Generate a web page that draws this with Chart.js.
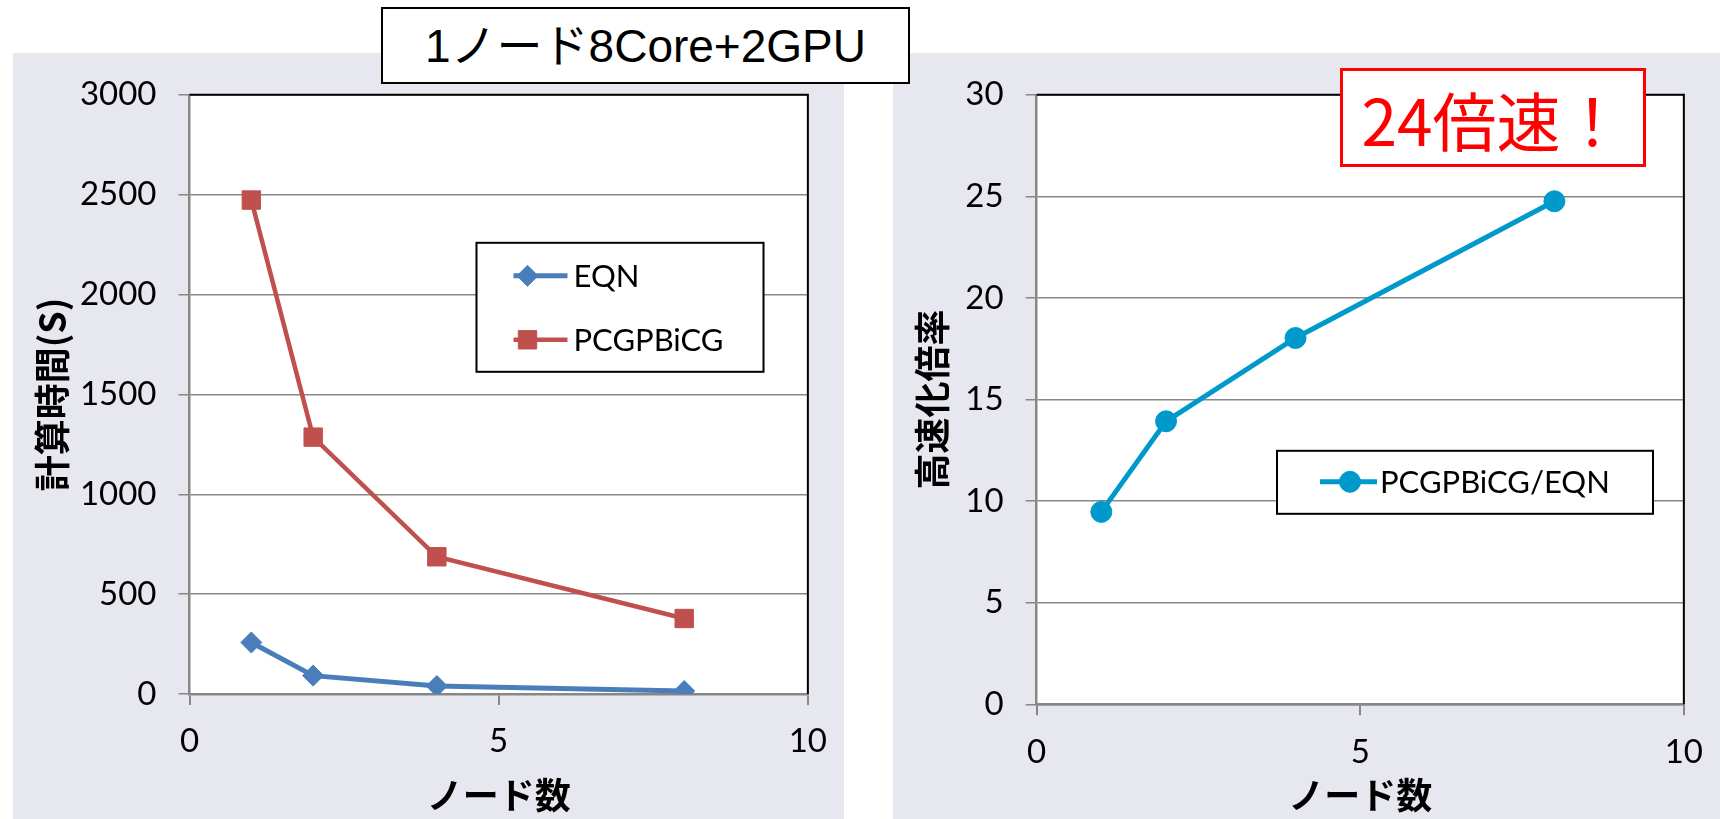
<!DOCTYPE html>
<html>
<head>
<meta charset="utf-8">
<script src="https://cdn.jsdelivr.net/npm/chart.js@4.4.1/dist/chart.umd.min.js"></script>
<style>
  html, body { margin: 0; padding: 0; background: #fff; width: 1720px; height: 819px; overflow: hidden; }
  body { position: relative; }
  .panel { position: absolute; background: #e7e8ef; }
  #panelTime { left: 13px; top: 53px; width: 831px; height: 766px; }
  #panelSpeed { left: 893px; top: 53px; width: 827px; height: 766px; }
  canvas { display: block; }
  #heading {
    position: absolute; left: 381px; top: 7px; width: 525px; height: 73px;
    border: 2px solid #000; background: #fff; color: #000;
    font: 46px 'Liberation Sans', 'Noto Sans CJK JP', sans-serif; line-height: 1;
    display: flex; align-items: center; justify-content: center;
  }
  #badge {
    position: absolute; left: 1340px; top: 68px; width: 300px; height: 93px;
    border: 3px solid #ff0000; background: #fff; color: #ff0000;
    font: 64px 'Noto Sans CJK JP', sans-serif; line-height: 1;
    display: flex; align-items: center; justify-content: center;
  }
</style>
</head>
<body>
<div class="panel" id="panelTime"><canvas id="timeChart" width="831" height="766"></canvas></div>
<div class="panel" id="panelSpeed"><canvas id="speedChart" width="827" height="766"></canvas></div>
<div id="heading">1ノード8Core+2GPU</div>
<div id="badge">24倍速！</div>

<script>
// Node counts and measured values
const nodes = [1, 2, 4, 8];
const eqnTime = [258, 92, 40, 15];          // EQN solver time (s)
const pcgTime = [2473, 1286, 687, 378];     // PCGPBiCG solver time (s)
const speedup = [9.47, 13.93, 18.03, 24.76]; // PCGPBiCG / EQN

// Axis settings
const xTicks = { min: 0, max: 10, step: 5 };
const timeTicks = { min: 0, max: 3000, step: 500 };
const speedTicks = { min: 0, max: 30, step: 5 };

const seriesLabels = ['EQN', 'PCGPBiCG', 'PCGPBiCG/EQN'];
const axisTitles = { x: 'ノード数', time: '計算時間(S)', speed: '高速化倍率' };

const COLORS = { eqn: '#4a7ebb', pcg: '#c0504d', ratio: '#0099cc', grid: '#878787' };
const TICK_FONT = { family: 'Lato, "Noto Sans", sans-serif', size: 33 };
const TITLE_FONT = { family: '"Noto Sans CJK JP", sans-serif', size: 36, weight: 'bold' };
const LEGEND_FONT = '31px Lato, "Noto Sans", sans-serif';

const toPoints = (xs, ys) => xs.map((x, i) => ({ x, y: ys[i] }));
const plainNumber = v => String(v);

// White plot area, black frame on top/right, and an in-plot legend box
const framePlugin = {
  id: 'frame',
  beforeDraw(chart) {
    const { ctx, chartArea: a } = chart;
    ctx.save();
    ctx.fillStyle = '#fff';
    ctx.fillRect(a.left, a.top, a.right - a.left, a.bottom - a.top);
    ctx.restore();
  },
  beforeDatasetsDraw(chart) {
    const { ctx, chartArea: a } = chart;
    ctx.save();
    ctx.strokeStyle = '#000';
    ctx.lineWidth = 2;
    ctx.beginPath();
    ctx.moveTo(a.left, a.top);
    ctx.lineTo(a.right, a.top);
    ctx.lineTo(a.right, a.bottom);
    ctx.stroke();
    ctx.restore();
  },
  afterDatasetsDraw(chart, args, opts) {
    if (!opts.box) return;
    const { ctx, chartArea: a } = chart;
    const b = opts.box;
    const bx = a.left + b.left, by = a.top + b.top;
    ctx.save();
    ctx.fillStyle = '#fff';
    ctx.fillRect(bx, by, b.width, b.height);
    ctx.strokeStyle = '#000';
    ctx.lineWidth = 2;
    ctx.strokeRect(bx, by, b.width, b.height);
    chart.data.datasets.forEach((ds, i) => {
      const cy = by + b.rows[i];
      ctx.strokeStyle = ds.borderColor;
      ctx.lineWidth = ds.borderWidth;
      ctx.beginPath();
      ctx.moveTo(bx + b.lineFrom, cy);
      ctx.lineTo(bx + b.lineTo, cy);
      ctx.stroke();
      ctx.fillStyle = ds.pointBackgroundColor;
      ctx.strokeStyle = ds.pointBorderColor;
      ctx.lineWidth = 1;
      Chart.helpers.drawPoint(ctx, {
        pointStyle: ds.pointStyle, radius: ds.pointRadius, rotation: 0, borderWidth: 1
      }, bx + b.marker, cy);
      ctx.fillStyle = '#000';
      ctx.font = LEGEND_FONT;
      ctx.textBaseline = 'middle';
      ctx.textAlign = 'left';
      ctx.fillText(ds.label, bx + b.text, cy + 1);
    });
    ctx.restore();
  }
};

function xScale(height) {
  return {
    type: 'linear', min: xTicks.min, max: xTicks.max,
    ticks: { stepSize: xTicks.step, color: '#000', font: TICK_FONT, padding: 17, maxRotation: 0, callback: plainNumber },
    grid: { drawOnChartArea: false, drawTicks: true, tickLength: 11, color: COLORS.grid, lineWidth: 2 },
    border: { display: true, color: COLORS.grid, width: 2.5 },
    title: { display: true, text: axisTitles.x, color: '#000', font: TITLE_FONT, padding: { top: 0, bottom: 2 } },
    afterFit(s) { s.height = height; }
  };
}

function yScale(range, title, width) {
  return {
    type: 'linear', min: range.min, max: range.max,
    ticks: { stepSize: range.step, color: '#000', font: TICK_FONT, padding: 22, callback: plainNumber },
    grid: { color: COLORS.grid, lineWidth: 1.5, tickLength: 11 },
    border: { display: true, color: COLORS.grid, width: 2.5 },
    title: { display: true, text: title, color: '#000', font: TITLE_FONT, padding: { top: 18, bottom: 0 } },
    afterFit(s) { s.width = width; }
  };
}

function lineSet(label, color, data, style, radius, width) {
  return {
    label, data, borderColor: color, backgroundColor: color,
    pointBackgroundColor: color, pointBorderColor: color, pointBorderWidth: 1,
    pointStyle: style, pointRadius: radius, pointHoverRadius: radius,
    borderWidth: width, tension: 0, fill: false
  };
}

new Chart(document.getElementById('timeChart'), {
  type: 'line',
  data: {
    datasets: [
      lineSet(seriesLabels[0], COLORS.eqn, toPoints(nodes, eqnTime), 'rectRot', 10.5, 5),
      lineSet(seriesLabels[1], COLORS.pcg, toPoints(nodes, pcgTime), 'rect', 13, 4.5)
    ]
  },
  options: {
    responsive: false, animation: false, devicePixelRatio: 1,
    layout: { padding: { left: 0, top: 41, right: 34.5, bottom: 0 } },
    scales: { x: xScale(125), y: yScale(timeTicks, axisTitles.time, 176.5) },
    plugins: {
      legend: { display: false }, tooltip: { enabled: false },
      frame: { box: { left: 287, top: 148, width: 287, height: 129, rows: [33, 97], lineFrom: 37, lineTo: 91, marker: 51, text: 97 } }
    }
  },
  plugins: [framePlugin]
});

new Chart(document.getElementById('speedChart'), {
  type: 'line',
  data: {
    datasets: [
      lineSet(seriesLabels[2], COLORS.ratio, toPoints(nodes, speedup), 'circle', 10.5, 5)
    ]
  },
  options: {
    responsive: false, animation: false, devicePixelRatio: 1,
    layout: { padding: { left: 0, top: 41, right: 30, bottom: 0 } },
    scales: { x: xScale(114.7), y: yScale(speedTicks, axisTitles.speed, 143.6) },
    plugins: {
      legend: { display: false }, tooltip: { enabled: false },
      frame: { box: { left: 240.4, top: 356, width: 376, height: 63, rows: [31], lineFrom: 43, lineTo: 100, marker: 73, text: 103 } }
    }
  },
  plugins: [framePlugin]
});
</script>
</body>
</html>
